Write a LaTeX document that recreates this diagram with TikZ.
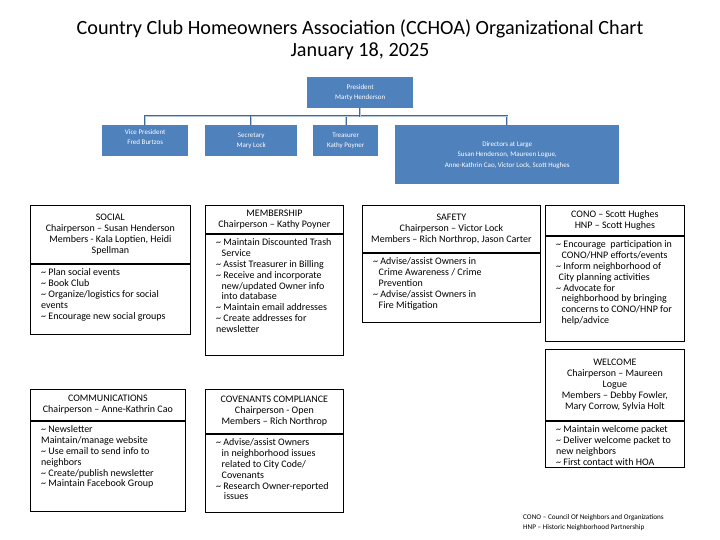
\documentclass[tikz,border=0pt]{standalone}
\usepackage{fontspec}
\setmainfont{Carlito}
\usepackage{tikz}
\usetikzlibrary{positioning}
\definecolor{officeblue}{HTML}{4F81BD}
\definecolor{linkblue}{HTML}{3D6A9C}
\definecolor{linklight}{HTML}{B4C7E2}
\newcommand{\ofont}{\fontsize{7}{10.5}\selectfont}
\newcommand{\cfont}{\fontsize{10}{10.9}\selectfont}
\newcommand{\ind}{\hspace*{0.55em}}
\newcommand{\tl}{\textasciitilde{} }
\tikzset{
  office/.style={
    rectangle, fill=officeblue, text=white, anchor=north west,
    font=\ofont, align=center, inner sep=0pt
  },
  link/.style={draw=linkblue, line width=0.6pt, double=linklight, double distance=0.6pt},
  headbox/.style={
    rectangle, draw, line width=0.8pt, anchor=north west,
    align=center, font=\cfont, inner sep=0pt
  },
  dutybox/.style={rectangle, draw, line width=0.8pt, inner sep=0pt},
  duties/.style={anchor=north west, align=left, font=\cfont, inner sep=0pt, xshift=11pt, yshift=-4.5pt},
}
\begin{document}
\begin{tikzpicture}[x=1pt, y=-1pt]
\useasboundingbox (0,0) rectangle (720,540);

% Title
\node[font=\fontsize{20.2}{21.5}\selectfont, align=center] (title) at (360,39.5)
  {Country Club Homeowners Association (CCHOA) Organizational Chart\\January 18, 2025};

% Officers
\node[office, minimum width=106pt, minimum height=31pt] (president) at (307,77) {President\\Marty Henderson};
\node[office, minimum width=86pt, minimum height=31pt, text depth=7.5pt] (vp) at (102,125) {Vice President\\Fred Burtzos};
\node[office, minimum width=92pt, minimum height=31pt] (secretary) at (205,125) {Secretary\\Mary Lock};
\node[office, minimum width=65pt, minimum height=31pt] (treasurer) at (313,125) {Treasurer\\Kathy Poyner};
\node[office, minimum width=224pt, minimum height=59pt] (directors) at (395,125)
  {Directors at Large\\Susan Henderson, Maureen Logue,\\Anne-Kathrin Cao, Victor Lock, Scott Hughes};

\draw[link] (president.south) -- ++(0,8) -| (vp.north);
\draw[link] (president.south) -- ++(0,8) -| (secretary.north);
\draw[link] (president.south) -- ++(0,8) -| (treasurer.north);
\draw[link] (president.south) -- ++(0,8) -| (directors.north);

% Social
\node[headbox, minimum width=160pt, minimum height=58pt] (social) at (30,205)
  {SOCIAL\\Chairperson – Susan Henderson\\Members - Kala Loptien, Heidi\\Spellman};
\node[dutybox, minimum width=160pt, minimum height=70pt, below=0pt of social] (social box) {};
\node[duties] (social duties) at (social box.north west)
  {\tl Plan social events\\\tl Book Club\\\tl Organize/logistics for social\\events\\\tl Encourage new social groups};

% Membership
\node[headbox, minimum width=138pt, minimum height=28pt] (membership) at (205,205)
  {MEMBERSHIP\\Chairperson – Kathy Poyner};
\node[dutybox, minimum width=138pt, minimum height=121pt, below=0pt of membership] (membership box) {};
\node[duties] (membership duties) at (membership box.north west)
  {\tl Maintain Discounted Trash\\\ind Service\\\tl Assist Treasurer in Billing\\\tl Receive and incorporate\\\ind new/updated Owner info\\\ind into database\\\tl Maintain email addresses\\\tl Create addresses for\\newsletter};

% Safety
\node[headbox, minimum width=178pt, minimum height=47pt] (safety) at (362,205)
  {SAFETY\\Chairperson – Victor Lock\\Members – Rich Northrop, Jason Carter};
\node[dutybox, minimum width=178pt, minimum height=69pt, below=0pt of safety] (safety box) {};
\node[duties] (safety duties) at (safety box.north west)
  {\tl Advise/assist Owners in\\\ind Crime Awareness / Crime\\\ind Prevention\\\tl Advise/assist Owners in\\\ind Fire Mitigation};

% CONO / HNP
\node[headbox, minimum width=139pt, minimum height=30pt] (cono) at (545,205)
  {CONO – Scott Hughes\\HNP – Scott Hughes};
\node[dutybox, minimum width=139pt, minimum height=105pt, below=0pt of cono] (cono box) {};
\node[duties] (cono duties) at (cono box.north west)
  {\tl Encourage\ \ participation in\\\ind CONO/HNP efforts/events\\\tl Inform neighborhood of\\\hspace*{0.25em}City planning activities\\\tl Advocate for\\\ind neighborhood by bringing\\\ind concerns to CONO/HNP for\\\ind help/advice};

% Welcome
\node[headbox, minimum width=139pt, minimum height=71pt] (welcome) at (545,349)
  {WELCOME\\Chairperson – Maureen\\Logue\\Members – Debby Fowler,\\Mary Corrow, Sylvia Holt};
\node[dutybox, minimum width=139pt, minimum height=46pt, below=0pt of welcome] (welcome box) {};
\node[duties] (welcome duties) at (welcome box.north west)
  {\tl Maintain welcome packet\\\tl Deliver welcome packet to\\new neighbors\\\tl First contact with HOA};

% Communications
\node[headbox, minimum width=155pt, minimum height=31pt] (comms) at (30,389)
  {COMMUNICATIONS\\Chairperson – Anne-Kathrin Cao};
\node[dutybox, minimum width=155pt, minimum height=90pt, below=0pt of comms] (comms box) {};
\node[duties] (comms duties) at (comms box.north west)
  {\tl Newsletter\\Maintain/manage website\\\tl Use email to send info to\\neighbors\\\tl Create/publish newsletter\\\tl Maintain Facebook Group};

% Covenants compliance
\node[headbox, minimum width=138pt, minimum height=44pt] (covenants) at (205,389)
  {COVENANTS COMPLIANCE\\Chairperson - Open\\Members – Rich Northrop};
\node[dutybox, minimum width=138pt, minimum height=78pt, below=0pt of covenants] (covenants box) {};
\node[duties] (covenants duties) at (covenants box.north west)
  {\tl Advise/assist Owners\\\ind in neighborhood issues\\\ind related to City Code/\\\ind Covenants\\\tl Research Owner-reported\\\ind\ issues};

% Legend
\node[anchor=north west, align=left, font=\fontsize{7.2}{10}\selectfont, inner sep=0pt] (legend) at (523,514)
  {CONO – Council Of Neighbors and Organizations\\HNP – Historic Neighborhood Partnership};

\end{tikzpicture}
\end{document}
